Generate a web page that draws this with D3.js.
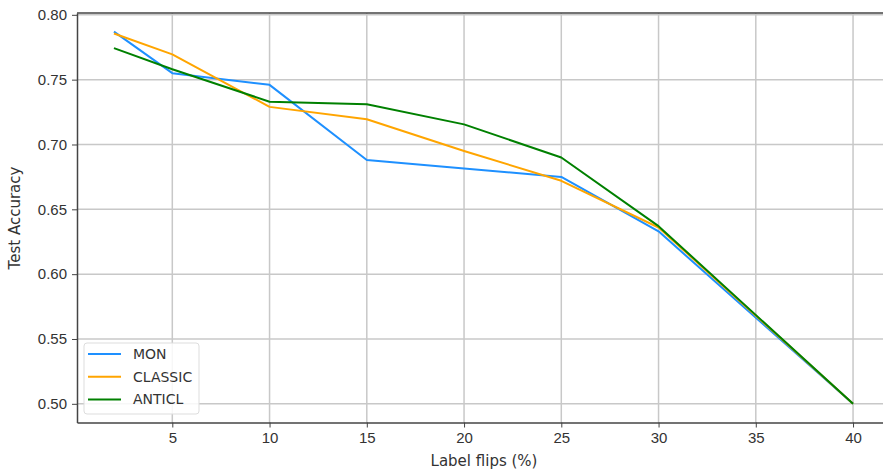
<!DOCTYPE html>
<html>
<head>
<meta charset="utf-8">
<script src="https://cdn.jsdelivr.net/npm/d3@7"></script>
<style>
  body { margin: 0; background: #fff; }
  svg { display: block; font-family: "DejaVu Sans", sans-serif; }
  .axis text { font-size: 15px; fill: #333; }
  .axis path, .axis line { stroke: #444; }
</style>
</head>
<body>
<div id="chart"></div>
<script>
// data
const flips = [2, 5, 10, 15, 20, 25, 30, 40];
const mon = [0.787, 0.755, 0.746, 0.688, 0.6815, 0.675, 0.633, 0.500];
const classic = [0.7856, 0.7695, 0.729, 0.7195, 0.695, 0.672, 0.636, 0.500];
const anticl = [0.7743, 0.758, 0.733, 0.731, 0.7155, 0.690, 0.637, 0.500];
const xTicks = [5, 10, 15, 20, 25, 30, 35, 40];
const yTicks = [0.50, 0.55, 0.60, 0.65, 0.70, 0.75, 0.80];

const seriesList = [
  { name: "MON", values: mon, color: "#1e90ff" },
  { name: "CLASSIC", values: classic, color: "#ffa500" },
  { name: "ANTICL", values: anticl, color: "#008000" }
];

const width = 883, height = 472;
const margin = { top: 13, left: 77, bottom: 49.5, right: -7 };
const innerWidth = width - margin.left - margin.right;
const innerHeight = height - margin.top - margin.bottom;

const xScale = d3.scaleLinear().domain([0.1, 41.9]).range([0, innerWidth]);
const yScale = d3.scaleLinear().domain([0.4856, 0.8014]).range([innerHeight, 0]);

const svg = d3.select("#chart").append("svg")
  .attr("width", width)
  .attr("height", height);

const inner = svg.append("g")
  .attr("transform", `translate(${margin.left}, ${margin.top})`);

// grid
inner.append("g")
  .selectAll("line")
  .data(xTicks)
  .join("line")
    .attr("x1", d => xScale(d)).attr("x2", d => xScale(d))
    .attr("y1", 0).attr("y2", innerHeight)
    .attr("stroke", "#c8c8c8").attr("stroke-width", 1.5);

inner.append("g")
  .selectAll("line")
  .data(yTicks)
  .join("line")
    .attr("x1", 0).attr("x2", innerWidth)
    .attr("y1", d => yScale(d)).attr("y2", d => yScale(d))
    .attr("stroke", "#c8c8c8").attr("stroke-width", 1.5);

// lines
const line = d3.line()
  .x((d, i) => xScale(flips[i]))
  .y(d => yScale(d));

inner.selectAll(".series")
  .data(seriesList)
  .join("path")
    .attr("class", "series")
    .attr("d", d => line(d.values))
    .attr("fill", "none")
    .attr("stroke", d => d.color)
    .attr("stroke-width", 2)
    .attr("stroke-linejoin", "round");

// axes
const bottomAxis = d3.axisBottom(xScale)
  .tickValues(xTicks).tickSize(5).tickPadding(5).tickSizeOuter(0);
inner.append("g")
  .attr("class", "axis")
  .attr("transform", `translate(0, ${innerHeight})`)
  .call(bottomAxis)
  .call(g => g.select(".domain").attr("stroke-width", 1.5));

const leftAxis = d3.axisLeft(yScale)
  .tickValues(yTicks).tickFormat(d3.format(".2f"))
  .tickSize(5).tickPadding(5).tickSizeOuter(0);
inner.append("g")
  .attr("class", "axis")
  .call(leftAxis)
  .call(g => g.select(".domain").attr("stroke-width", 1.5));

// top spine
inner.append("line")
  .attr("x1", 0).attr("x2", innerWidth)
  .attr("y1", 0).attr("y2", 0)
  .attr("stroke", "#444").attr("stroke-width", 1.5);

// axis labels
svg.append("text")
  .text("Label flips (%)")
  .attr("x", 484).attr("y", 466)
  .attr("text-anchor", "middle")
  .attr("font-size", 15).attr("fill", "#333");

svg.append("text")
  .text("Test Accuracy")
  .attr("transform", "translate(20, 218) rotate(-90)")
  .attr("text-anchor", "middle")
  .attr("font-size", 15).attr("fill", "#333");

// legend
const legend = svg.append("g").attr("transform", "translate(84, 343)");
legend.append("rect")
  .attr("width", 115).attr("height", 71)
  .attr("rx", 3)
  .attr("fill", "#fff").attr("fill-opacity", 0.85)
  .attr("stroke", "#ddd");

const rows = legend.selectAll(".row")
  .data(seriesList)
  .join("g")
    .attr("class", "row")
    .attr("transform", (d, i) => `translate(0, ${11 + i * 22.7})`);
rows.append("line")
  .attr("x1", 4).attr("x2", 37)
  .attr("stroke", d => d.color).attr("stroke-width", 2);
rows.append("text")
  .text(d => d.name)
  .attr("x", 49).attr("y", 5)
  .attr("font-size", 14).attr("fill", "#333");
</script>
</body>
</html>
